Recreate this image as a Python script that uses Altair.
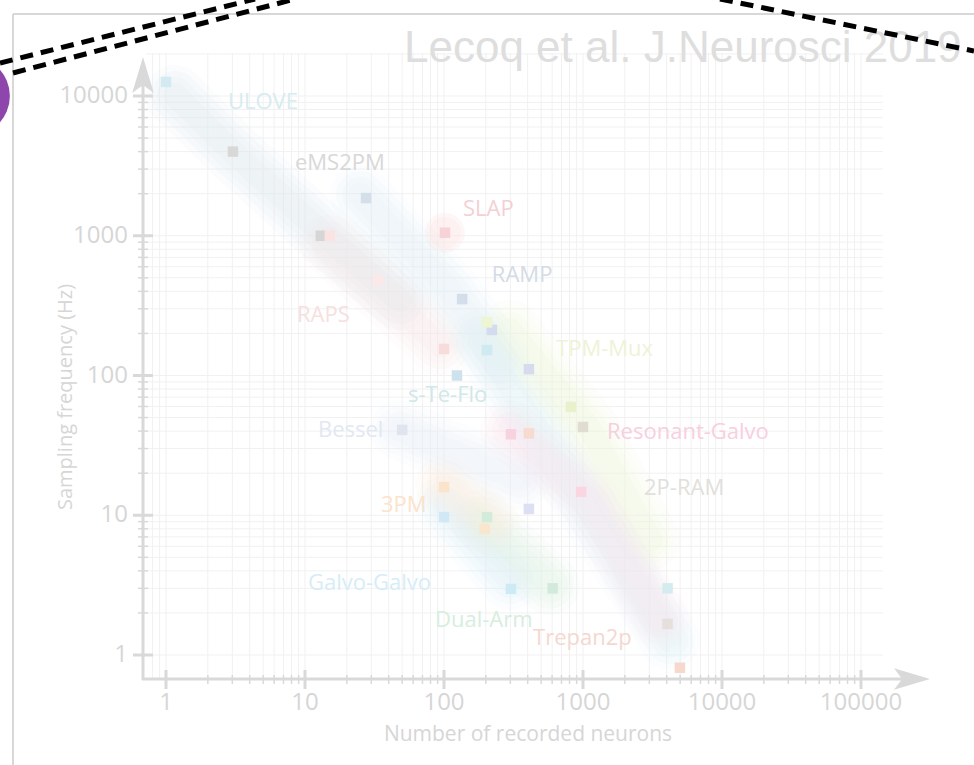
import altair as alt
import pandas as pd

# ---------------- data ----------------
pt_x = [1, 3.03, 27.5, 13, 15.1, 101.6, 135, 100, 221, 204, 124, 408, 50, 818, 1000,
        303, 408, 970, 100, 100, 204, 196, 408, 303, 605, 4060, 4060, 4980, 204, 33.5]
pt_y = [12600, 4000, 1860, 1000, 1000, 1050, 352, 155, 212, 152, 100, 111, 40.8, 59.6, 42.8,
        38, 38.5, 14.7, 15.9, 9.7, 9.7, 8, 11.1, 2.97, 3, 3, 1.67, 0.81, 240, 480]
pt_color = ["#d3eaf2", "#d8d8d8", "#d4dfea", "#d6d6d6", "#fbe3e3", "#f7d2d6", "#d3deea",
            "#f8dcdc", "#d3dcee", "#cfeaf0", "#cde2ec", "#d6dcee", "#e0e4ef", "#e8f0cc",
            "#e1dcd2", "#f9d2e0", "#f8dbd0", "#fad6e3", "#fbe3cc", "#d1e8f5", "#d3ebdb",
            "#fae6cd", "#dde0f3", "#cdebf5", "#d1eadb", "#d4ecef", "#e6e0dc", "#f7d8cc",
            "#eef5d2", "#fbe9e9"]

lab_text = ["ULOVE", "eMS2PM", "SLAP", "RAMP", "RAPS", "TPM-Mux", "s-Te-Flo", "Bessel",
            "Resonant-Galvo", "2P-RAM", "3PM", "Galvo-Galvo", "Dual-Arm", "Trepan2p"]
lab_x = [2.79, 8.47, 137, 221, 8.75, 640, 55.1, 12.4, 1489, 2748, 35.2, 10.5, 86.1, 437]
lab_y = [9060, 3316, 1553, 524, 271, 155, 72.5, 40.7, 39.4, 15.7, 11.8, 3.27, 1.78, 1.32]
lab_color = ["#d6ecf0", "#d8d8d8", "#f4d0d4", "#d4dbe6", "#f6e0e0", "#eef3d6", "#cfe8e8",
             "#e2e8f2", "#f8cfe0", "#e2e0dc", "#fbe3cc", "#d6edf8", "#d6eee0", "#f4d8d0"]

# soft background bands (data coordinates)
band_names = ["b1", "b2", "b3", "b4", "b5", "b6", "b7", "b8", "b9", "b10"]
band_xs = [[1.16, 3.03, 15.1, 48], [24.9, 110, 253], [15.1, 93.6],
           [181.6, 579, 1846, 4227], [298, 1123, 3034], [298, 1123, 3580],
           [101.7, 298], [181.6, 579], [101.7, 214], [48.2, 352]]
band_ys = [[10160, 3960, 933, 347], [1958, 409, 129], [859, 165],
           [179.5, 29.3, 4.78, 1.28], [212, 40.7, 6.65], [40.7, 12.9, 1.78],
           [11.8, 3.44], [9.25, 3.17], [16.5, 8.5], [40.7, 17.9]]
band_colors = ["#dde9ef", "#e1eef5", "#fae7e8", "#ddf1f5", "#eef6dc", "#fbe3ec",
               "#dcf0fa", "#dff2e5", "#fdecda", "#e8eef7"]

x_tick_vals = [1, 10, 100, 1000, 10000, 100000]
x_tick_labels = ["1", "10", "100", "1000", "10000", "100000"]
y_tick_vals = [1, 10, 100, 1000, 10000]
y_tick_labels = ["1", "10", "100", "1000", "10000"]

grid_x = [0.8, 0.9] + [k * 10 ** n for n in range(0, 5) for k in range(1, 10)] + [100000]
grid_y = [k * 10 ** n for n in range(0, 4) for k in range(1, 10)] + [10000, 20000]
minor_x = [k * 10 ** n for n in range(0, 5) for k in range(2, 10)]
minor_y = [k * 10 ** n for n in range(0, 4) for k in range(2, 10)]

# ---------------- scales ----------------
XS = alt.Scale(type="log", domain=[1, 100000], range=[166, 861], nice=False)
YS = alt.Scale(type="log", domain=[1, 10000], range=[655, 96], nice=False)
GRAY = "#d9d9d9"
FONT = "Open Sans"

def X(f="v"):
    return alt.X(f"{f}:Q", scale=XS, axis=None)

def Y(f="v"):
    return alt.Y(f"{f}:Q", scale=YS, axis=None)

one = pd.DataFrame({"a": [0]})
layers = []

# frame
layers.append(alt.Chart(one).mark_rule(color="#d8d8d8", strokeWidth=2).encode(
    x=alt.value(13), y=alt.value(14), y2=alt.value(765)))
layers.append(alt.Chart(one).mark_rule(color="#d8d8d8", strokeWidth=2).encode(
    x=alt.value(13), x2=alt.value(974), y=alt.value(14)))

# grid
gx = pd.DataFrame({"v": grid_x})
gy = pd.DataFrame({"v": grid_y})
layers.append(alt.Chart(gx).mark_rule(color="#f1f1f1", strokeWidth=1).encode(
    x=X(), y=alt.value(53), y2=alt.value(679)))
layers.append(alt.Chart(gy).mark_rule(color="#f1f1f1", strokeWidth=1).encode(
    y=Y(), x=alt.value(146), x2=alt.value(883)))

# bands (soft, several passes to imitate blur)
rows = []
for name, xs, ys, c in zip(band_names, band_xs, band_ys, band_colors):
    for i, (xv, yv) in enumerate(zip(xs, ys)):
        rows.append({"band": name, "i": i, "bx": xv, "by": yv, "color": c})
bands = pd.DataFrame(rows)
for w, op in [(60, 0.12), (48, 0.14), (36, 0.16), (24, 0.18)]:
    layers.append(alt.Chart(bands).mark_line(strokeWidth=w, opacity=op, strokeCap="round",
                                              strokeJoin="round").encode(
        x=X("bx"), y=Y("by"), detail="band:N", order="i:Q",
        color=alt.Color("color:N", scale=None)))

# SLAP glow
glow = pd.DataFrame({"gx": [pt_x[5]], "gy": [pt_y[5]]})
for s, op in [(1600, 0.3), (1000, 0.35)]:
    layers.append(alt.Chart(glow).mark_circle(size=s, color="#fbe4e6", opacity=op).encode(
        x=X("gx"), y=Y("gy")))

# axis lines
layers.append(alt.Chart(one).mark_rule(color=GRAY, strokeWidth=3).encode(
    x=alt.value(143), y=alt.value(85), y2=alt.value(680)))
layers.append(alt.Chart(one).mark_rule(color=GRAY, strokeWidth=3).encode(
    x=alt.value(142), x2=alt.value(905), y=alt.value(679)))
# arrow heads
layers.append(alt.Chart(one).mark_point(filled=True, color=GRAY, opacity=1, size=1296,
                                        shape="M0,-1L0.6,1L0,0.55L-0.6,1Z").encode(
    x=alt.value(143), y=alt.value(75)))
layers.append(alt.Chart(one).mark_point(filled=True, color=GRAY, opacity=1, size=1296,
                                        shape="M1,0L-1,0.6L-0.55,0L-1,-0.6Z").encode(
    x=alt.value(912), y=alt.value(679)))

# ticks
xt = pd.DataFrame({"v": x_tick_vals, "lab": x_tick_labels})
yt = pd.DataFrame({"v": y_tick_vals, "lab": y_tick_labels})
layers.append(alt.Chart(xt).mark_rule(color=GRAY, strokeWidth=3).encode(
    x=X(), y=alt.value(670), y2=alt.value(689)))
layers.append(alt.Chart(pd.DataFrame({"v": minor_x})).mark_rule(color=GRAY, strokeWidth=1.5).encode(
    x=X(), y=alt.value(675), y2=alt.value(684)))
layers.append(alt.Chart(yt).mark_rule(color=GRAY, strokeWidth=3).encode(
    y=Y(), x=alt.value(133), x2=alt.value(153)))
layers.append(alt.Chart(pd.DataFrame({"v": minor_y})).mark_rule(color=GRAY, strokeWidth=1.5).encode(
    y=Y(), x=alt.value(138), x2=alt.value(148)))

# tick labels
layers.append(alt.Chart(xt).mark_text(font=FONT, fontSize=24, color="#d6d6d6",
                                      align="center", baseline="middle").encode(
    x=X(), y=alt.value(703), text="lab:N"))
layers.append(alt.Chart(yt).mark_text(font=FONT, fontSize=24, color="#d6d6d6",
                                      align="right", baseline="middle").encode(
    y=Y(), x=alt.value(128), text="lab:N"))

# points
pts = pd.DataFrame({"px": pt_x, "py": pt_y, "c": pt_color})
layers.append(alt.Chart(pts).mark_square(size=110, opacity=1).encode(
    x=X("px"), y=Y("py"), color=alt.Color("c:N", scale=None)))

# labels
labs = pd.DataFrame({"lx": lab_x, "ly": lab_y, "t": lab_text, "c": lab_color})
layers.append(alt.Chart(labs).mark_text(font=FONT, fontSize=22, align="left",
                                        baseline="middle").encode(
    x=X("lx"), y=Y("ly"), text="t:N", color=alt.Color("c:N", scale=None)))

# axis titles
layers.append(alt.Chart(one).mark_text(text="Number of recorded neurons", font=FONT, fontSize=21,
                                       color="#d6d6d6", align="center", baseline="middle").encode(
    x=alt.value(528), y=alt.value(735)))
layers.append(alt.Chart(one).mark_text(text="Sampling frequency  (Hz)", font=FONT, fontSize=20,
                                       color="#d6d6d6", align="center", baseline="middle",
                                       angle=270).encode(
    x=alt.value(66), y=alt.value(397)))

# title
layers.append(alt.Chart(one).mark_text(text="Lecoq et al. J.Neurosci 2019", font="Liberation Sans",
                                       fontSize=44, color="#dedede", align="left",
                                       baseline="alphabetic").encode(
    x=alt.value(404), y=alt.value(62)))

# dashed callout lines
for (x1, y1, x2, y2) in [(0, 63, 255, -1), (13, 73, 295, -1), (720, -1, 974, 51)]:
    layers.append(alt.Chart(one).mark_rule(color="black", strokeWidth=5,
                                           strokeDash=[13, 8]).encode(
        x=alt.value(x1), y=alt.value(y1), x2=alt.value(x2), y2=alt.value(y2)))

# purple circle at left edge
layers.append(alt.Chart(one).mark_circle(size=6360, color="#8e46ad", opacity=1).encode(
    x=alt.value(-30), y=alt.value(96)))

chart = alt.layer(*layers).properties(
    width=974, height=765, autosize="none", padding=0, background="white"
).configure_view(stroke=None)

chart.save("out.html", embed_options={"renderer": "svg", "actions": False})
